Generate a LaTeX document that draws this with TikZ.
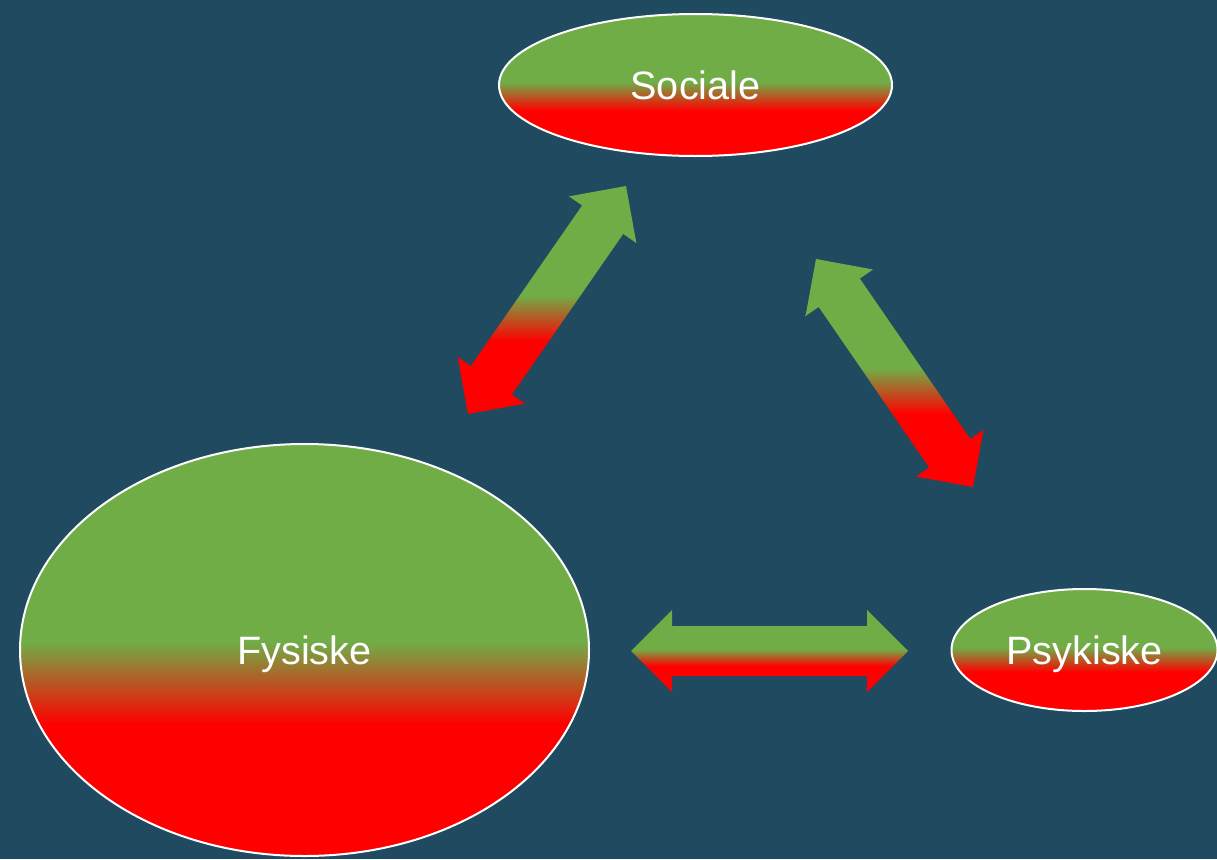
\documentclass[tikz,border=0pt]{standalone}
\usepackage{fontspec}
\setmainfont{Liberation Sans}
\usetikzlibrary{shapes.geometric,calc}

\definecolor{bg}{HTML}{1F4A5F}
\definecolor{leafgreen}{HTML}{70AD47}
\definecolor{alertred}{HTML}{FF0000}

% green on top, red below, with a short blend just under the middle
\pgfdeclareverticalshading{greenred}{100bp}{%
  color(0bp)=(alertred); color(41bp)=(alertred);
  color(51bp)=(leafgreen); color(100bp)=(leafgreen)}

\tikzset{
  blob/.style={ellipse, shade, shading=greenred, draw=white, line width=2pt,
    inner sep=0pt, text=white, font=\fontsize{39.6}{40}\selectfont,
    text height=28.4pt, text depth=0pt},
  twoway/.style={shade, shading=greenred},
}

% block arrow with heads at both named ends
\newcommand\twowayarrow[2]{%
  \coordinate (#1-h) at ($(#1)!41pt!(#2)$);
  \coordinate (#2-h) at ($(#2)!41pt!(#1)$);
  \path[twoway]
    (#1)
    -- ($(#1-h)!41pt!90:(#2)$) -- ($(#1-h)!25pt!90:(#2)$)
    -- ($(#2-h)!25pt!90:(#2)$) -- ($(#2-h)!41pt!90:(#2)$)
    -- (#2)
    -- ($(#2-h)!41pt!-90:(#2)$) -- ($(#2-h)!25pt!-90:(#2)$)
    -- ($(#1-h)!25pt!-90:(#2)$) -- ($(#1-h)!41pt!-90:(#2)$)
    -- cycle;}

\begin{document}
\begin{tikzpicture}[x=1pt,y=-1pt]
  \fill[bg] (0,0) rectangle (1217,859);
  \useasboundingbox (0,0) rectangle (1217,859);

  \node[blob, minimum width=393pt, minimum height=142pt] (sociale) at (695.5,85) {Sociale};
  \node[blob, minimum width=569pt, minimum height=412pt] (fysiske) at (304.5,650) {Fysiske};
  \node[blob, minimum width=266pt, minimum height=122pt] (psykiske) at (1084.5,650) {Psykiske};

  \coordinate (fs-lo) at (468,414);
  \coordinate (fs-hi) at (626,186);
  \coordinate (sp-hi) at (816,259);
  \coordinate (sp-lo) at (973,487);
  \coordinate (fp-l) at (631,651);
  \coordinate (fp-r) at (908,651);

  \twowayarrow{fs-lo}{fs-hi}
  \twowayarrow{sp-hi}{sp-lo}
  \twowayarrow{fp-l}{fp-r}
\end{tikzpicture}
\end{document}
